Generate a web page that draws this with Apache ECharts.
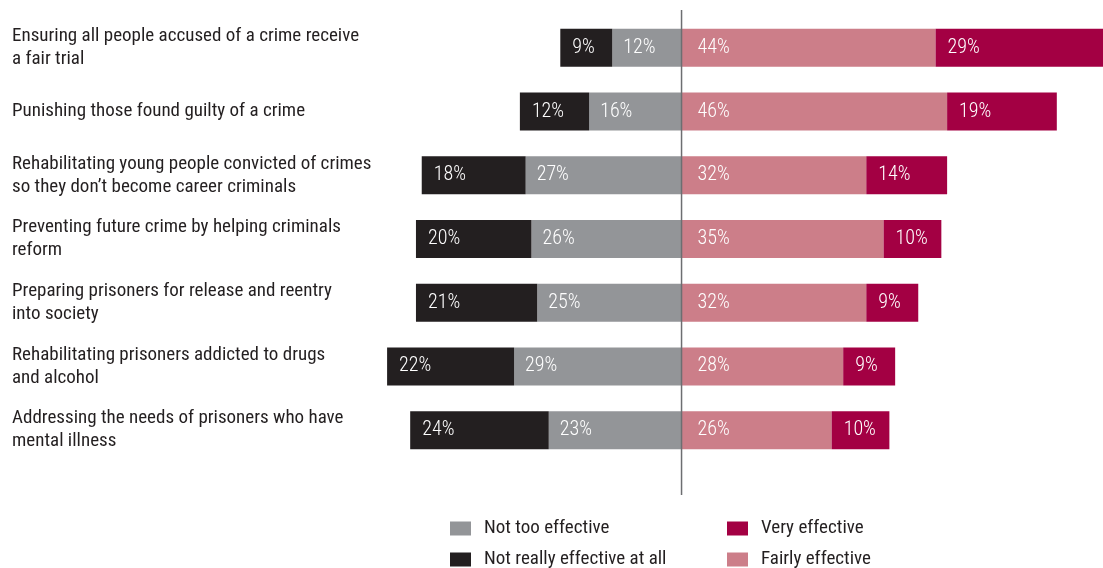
<!DOCTYPE html>
<html>
<head>
<meta charset="utf-8">
<script src="https://cdn.jsdelivr.net/npm/echarts@6/dist/echarts.min.js"></script>
<style>
html,body{margin:0;padding:0;background:#fff;}
#c{width:1103px;height:568px;}
</style>
</head>
<body>
<div id="c"></div>
<script>
const categories = [
  "Ensuring all people accused of a crime receive\na fair trial",
  "Punishing those found guilty of a crime",
  "Rehabilitating young people convicted of crimes\nso they don\u2019t become career criminals",
  "Preventing future crime by helping criminals\nreform",
  "Preparing prisoners for release and reentry\ninto society",
  "Rehabilitating prisoners addicted to drugs\nand alcohol",
  "Addressing the needs of prisoners who have\nmental illness"
];
const notReallyEffective = [9, 12, 18, 20, 21, 22, 24];
const notTooEffective = [12, 16, 27, 26, 25, 29, 23];
const fairlyEffective = [44, 46, 32, 35, 32, 28, 26];
const veryEffective = [29, 19, 14, 10, 9, 9, 10];

const FONT = "'Roboto Condensed', 'DejaVu Sans', sans-serif";
const chart = echarts.init(document.getElementById('c'));

function lbl(dist) {
  return {
    show: true,
    position: 'insideLeft',
    distance: dist,
    color: '#fff',
    fontFamily: FONT,
    fontWeight: 300,
    fontSize: 20,
    formatter: p => Math.abs(p.value) + '%'
  };
}

const legendText = { fontFamily: FONT, fontSize: 19, color: '#231f20', lineHeight: 18, padding: [0, 0, 0, 8] };
function leg(name, left, top) {
  return {
    orient: 'horizontal', left: left, top: top, padding: 0,
    itemWidth: 21, itemHeight: 14, icon: 'rect',
    textStyle: legendText, data: [name]
  };
}

const option = {
  animation: false,
  textStyle: { fontFamily: FONT },
  grid: { left: 364, right: -1, top: 16, bottom: 106, containLabel: false },
  xAxis: {
    type: 'value', min: -55, max: 73, show: false
  },
  yAxis: {
    type: 'category', inverse: true, data: categories,
    axisLine: { show: false, onZero: false },
    axisTick: { show: false },
    axisLabel: {
      align: 'left', margin: 352, color: '#231f20',
      fontFamily: FONT, fontSize: 19, lineHeight: 23
    }
  },
  legend: [
    leg('Not too effective', 450, 519),
    leg('Not really effective at all', 450, 550),
    leg('Very effective', 727, 519),
    leg('Fairly effective', 727, 550)
  ],
  series: [
    {
      name: 'Not too effective', type: 'bar', stack: 'total', barWidth: 38,
      itemStyle: { color: '#939598' },
      label: lbl(11),
      data: notTooEffective.map(v => -v)
    },
    {
      name: 'Not really effective at all', type: 'bar', stack: 'total', barWidth: 38,
      itemStyle: { color: '#231f20' },
      label: lbl(12),
      data: notReallyEffective.map(v => -v)
    },
    {
      name: 'Fairly effective', type: 'bar', stack: 'total', barWidth: 38,
      itemStyle: { color: '#cc7e89' },
      label: lbl(16),
      data: fairlyEffective
    },
    {
      name: 'Very effective', type: 'bar', stack: 'total', barWidth: 38,
      itemStyle: { color: '#a30043' },
      label: lbl(12),
      data: veryEffective
    }
  ]
};
chart.setOption(option);
const zx = chart.convertToPixel({ gridIndex: 0 }, [0, 0])[0];
chart.setOption({
  graphic: [{
    type: 'line', z: 100,
    shape: { x1: zx, y1: 10, x2: zx, y2: 495 },
    style: { stroke: '#6d6e71', lineWidth: 1.5 }
  }]
});
</script>
</body>
</html>
